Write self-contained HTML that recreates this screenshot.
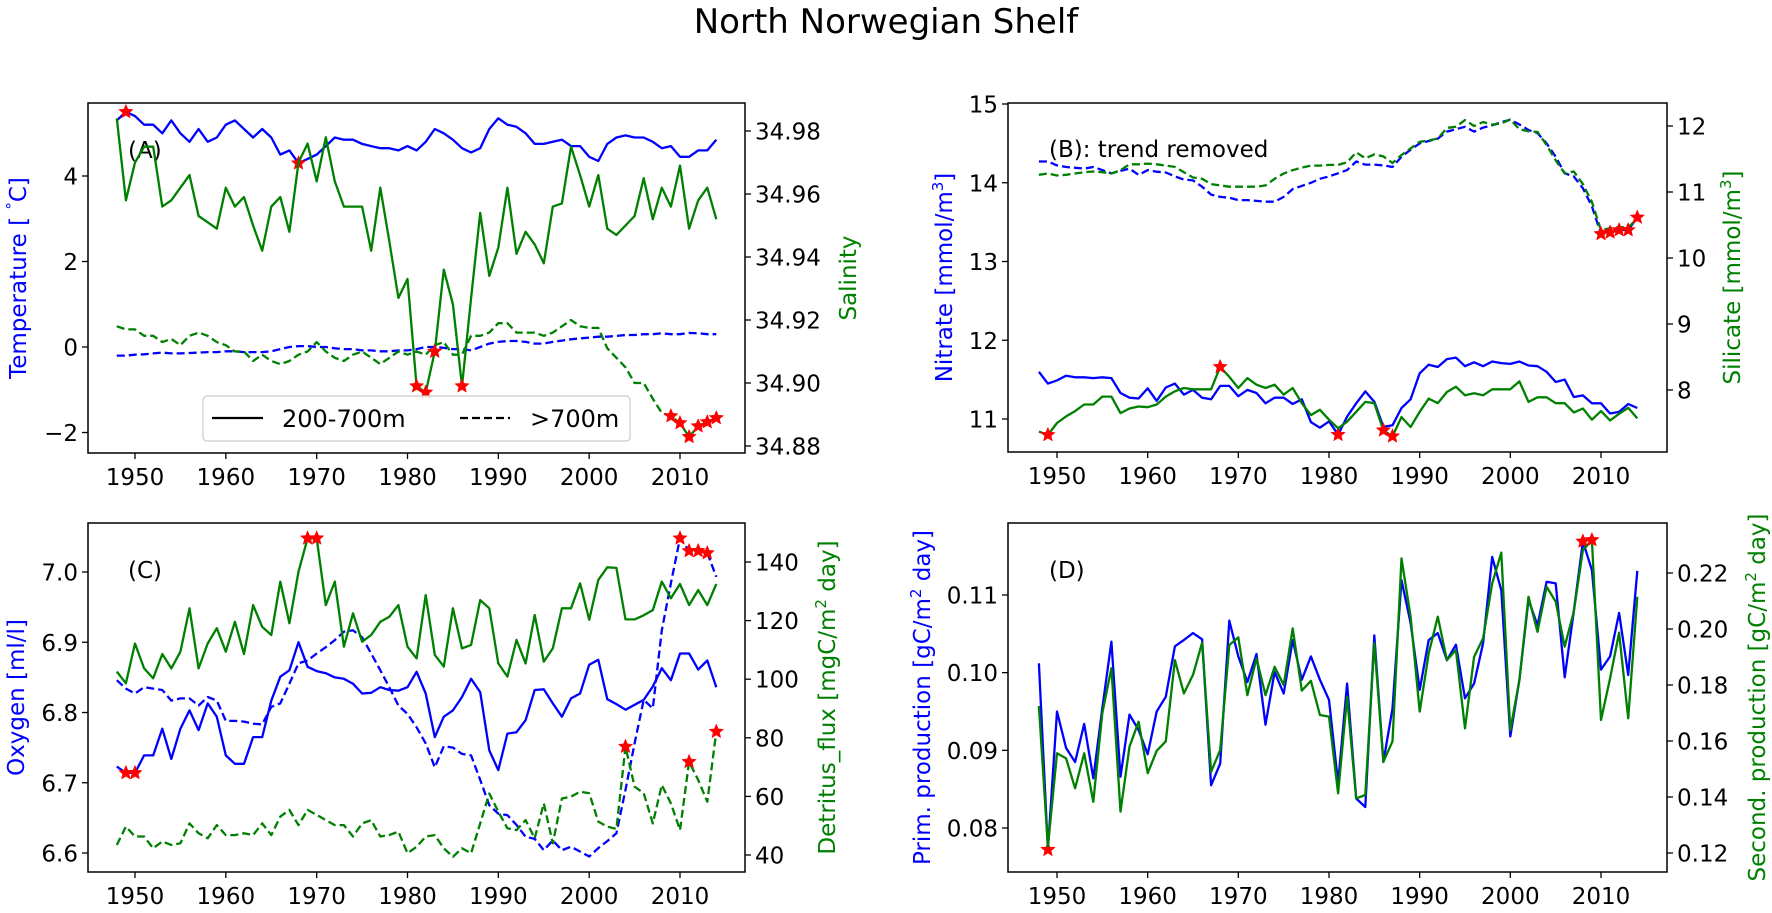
<!DOCTYPE html>
<html><head><meta charset="utf-8">
<style>
html,body{margin:0;padding:0;background:#fff;}
svg text{font-family:"DejaVu Sans","Liberation Sans",sans-serif;}
</style></head>
<body>
<svg id="fig" xmlns="http://www.w3.org/2000/svg" width="1772" height="908" viewBox="0 0 1772 908">
<rect width="1772" height="908" fill="#fff"/>
<text x="886" y="33" font-size="34" text-anchor="middle">North Norwegian Shelf</text>
</svg>
<script>
// ---- categories ----
const startYear = 1948;
const years = Array.from({length: 67}, (_, i) => startYear + i);
const xTicks = [1950, 1960, 1970, 1980, 1990, 2000, 2010];

// ---- Panel A ----
const tempSolid = [5.3,5.5,5.4,5.2,5.2,5.0,5.3,5.0,4.8,5.1, 4.8,4.9,5.2,5.3,5.1,4.9,5.1,4.9,4.5,4.6, 4.3,4.4,4.5,4.7,4.9,4.85,4.85,4.75,4.7,4.65, 4.65,4.6,4.7,4.6,4.8,5.1,5.0,4.85,4.65,4.55, 4.65,5.1,5.35,5.2,5.15,5.0,4.75,4.75,4.8,4.85, 4.7,4.7,4.45,4.35,4.75,4.9,4.95,4.9,4.9,4.8, 4.65,4.7,4.45,4.45,4.6,4.6,4.85];
const tempDeep = [-0.2,-0.2,-0.18,-0.17,-0.15,-0.13,-0.15,-0.15,-0.14,-0.13, -0.12,-0.12,-0.1,-0.1,-0.12,-0.12,-0.12,-0.1,-0.05,0.0, 0.02,0.02,0.0,0.0,-0.03,-0.05,-0.05,-0.08,-0.08,-0.1, -0.1,-0.08,-0.08,-0.05,0.0,0.0,-0.02,-0.05,-0.05,-0.08, 0.0,0.08,0.12,0.14,0.14,0.12,0.08,0.08,0.12,0.15, 0.18,0.2,0.22,0.24,0.24,0.26,0.28,0.28,0.3,0.3, 0.32,0.3,0.3,0.33,0.32,0.3,0.3];
const salSolid = [34.984,34.958,34.970,34.975,34.975,34.956,34.958,34.962,34.966,34.953, 34.951,34.949,34.962,34.956,34.959,34.950,34.942,34.956,34.959,34.948, 34.970,34.976,34.964,34.978,34.964,34.956,34.956,34.956,34.942,34.962, 34.945,34.927,34.933,34.899,34.897,34.910,34.936,34.925,34.899,34.927, 34.954,34.934,34.943,34.962,34.941,34.948,34.944,34.938,34.956,34.957, 34.975,34.966,34.956,34.966,34.949,34.947,34.950,34.953,34.965,34.952, 34.962,34.956,34.969,34.949,34.958,34.962,34.952];
const salDeep = [34.918,34.917,34.917,34.915,34.915,34.913,34.914,34.912,34.915,34.916, 34.915,34.913,34.912,34.910,34.910,34.907,34.909,34.907,34.906,34.907, 34.909,34.910,34.913,34.910,34.908,34.907,34.909,34.910,34.908,34.906, 34.908,34.910,34.909,34.910,34.909,34.912,34.913,34.909,34.909,34.915, 34.915,34.916,34.919,34.919,34.916,34.916,34.916,34.915,34.916,34.918, 34.920,34.918,34.9175,34.9175,34.911,34.908,34.905,34.900,34.900,34.895, 34.8905,34.8895,34.8873,34.8829,34.8863,34.8876,34.8889];
const tempTicks = [-2, 0, 2, 4];
const salTicks = [34.88, 34.90, 34.92, 34.94, 34.96, 34.98];
const starsTempSolid = [1949, 1968];
const starsSalSolid = [1981, 1982, 1983, 1986];
const starsSalDeep = [2009, 2010, 2011, 2012, 2013, 2014];

// ---- Panel B ----
const nitSolid = [11.60,11.45,11.49,11.55,11.53,11.53,11.52,11.53,11.52,11.33, 11.27,11.26,11.39,11.23,11.40,11.45,11.31,11.37,11.27,11.25, 11.42,11.42,11.29,11.37,11.33,11.20,11.27,11.27,11.19,11.25, 10.96,10.89,10.97,10.80,11.03,11.20,11.35,11.22,10.90,10.92, 11.14,11.25,11.58,11.69,11.66,11.76,11.78,11.67,11.72,11.67, 11.73,11.71,11.70,11.73,11.68,11.67,11.60,11.47,11.50,11.28, 11.30,11.20,11.20,11.07,11.09,11.19,11.14];
const nitDeep = [14.27,14.27,14.22,14.20,14.19,14.18,14.20,14.16,14.12,14.15, 14.18,14.10,14.16,14.14,14.13,14.08,14.04,14.03,13.95,13.85, 13.82,13.81,13.78,13.78,13.77,13.76,13.76,13.82,13.92,13.96, 14.00,14.05,14.08,14.12,14.16,14.27,14.23,14.23,14.22,14.20, 14.33,14.42,14.50,14.53,14.56,14.65,14.68,14.71,14.65,14.70, 14.73,14.77,14.80,14.74,14.67,14.63,14.50,14.33,14.12,14.08, 13.93,13.70,13.35,13.37,13.40,13.40,13.56];
const silSolid = [7.37,7.32,7.50,7.60,7.68,7.78,7.78,7.90,7.90,7.65, 7.72,7.75,7.74,7.78,7.90,7.98,8.03,8.01,8.01,8.01, 8.35,8.20,8.03,8.18,8.08,8.03,8.08,7.93,8.03,7.80, 7.62,7.70,7.55,7.42,7.52,7.67,7.82,7.80,7.39,7.30, 7.59,7.44,7.67,7.87,7.80,7.97,8.05,7.92,7.95,7.92, 8.01,8.01,8.01,8.13,7.82,7.89,7.89,7.80,7.80,7.66, 7.72,7.55,7.68,7.54,7.64,7.73,7.57];
const silDeep = [11.26,11.28,11.25,11.26,11.28,11.30,11.31,11.30,11.28,11.33, 11.42,11.42,11.43,11.42,11.40,11.38,11.30,11.22,11.20,11.12, 11.10,11.08,11.08,11.08,11.08,11.10,11.20,11.28,11.33,11.37, 11.40,11.40,11.41,11.41,11.45,11.60,11.51,11.57,11.54,11.44, 11.56,11.66,11.76,11.78,11.81,11.97,11.99,12.09,12.00,12.06, 12.02,12.04,12.10,11.95,11.92,11.91,11.71,11.48,11.28,11.31, 11.12,10.85,10.42,10.45,10.47,10.46,10.60];
const nitTicks = [11, 12, 13, 14, 15];
const silTicks = [8, 9, 10, 11, 12];
const starsNitSolid = [1981];
const starsNitDeep = [2010, 2011, 2012, 2013, 2014];
const starsSilSolid = [1949, 1968, 1986, 1987];

// ---- Panel C ----
const oxySolid = [6.723,6.714,6.714,6.739,6.739,6.777,6.734,6.777,6.803,6.775, 6.813,6.794,6.739,6.727,6.727,6.765,6.765,6.817,6.851,6.860, 6.900,6.865,6.859,6.856,6.850,6.848,6.841,6.827,6.828,6.836, 6.832,6.831,6.836,6.858,6.827,6.765,6.794,6.803,6.822,6.848, 6.829,6.746,6.718,6.770,6.772,6.789,6.832,6.833,6.813,6.794, 6.820,6.827,6.868,6.875,6.819,6.812,6.804,6.811,6.818,6.837, 6.863,6.846,6.884,6.884,6.861,6.874,6.836];
const oxyDeep = [6.846,6.834,6.827,6.836,6.834,6.832,6.817,6.820,6.820,6.810, 6.822,6.817,6.788,6.788,6.787,6.784,6.783,6.808,6.813,6.841, 6.870,6.874,6.884,6.893,6.903,6.915,6.917,6.907,6.884,6.860, 6.836,6.810,6.798,6.779,6.756,6.722,6.752,6.750,6.741,6.739, 6.704,6.668,6.656,6.654,6.640,6.623,6.620,6.604,6.618,6.604, 6.609,6.602,6.595,6.607,6.617,6.628,6.690,6.756,6.818,6.806, 6.917,6.984,7.048,7.030,7.030,7.027,6.993];
const detSolid = [102.6,98.6,112.2,103.7,100.3,108.6,103.7,109.4,124.2,103.7, 112.2,117.4,109.4,119.6,108.6,125.3,117.9,115.1,133.3,119.1, 136.7,148.1,148.1,125.3,133.3,111.1,122.5,112.8,115.1,119.6, 121.3,125.3,111.1,107.1,128.7,108.3,104.3,124.2,110.5,111.7, 127.0,124.2,105.4,100.9,113.4,105.4,121.9,106.0,110.5,124.2, 124.2,132.7,120.3,133.9,138.2,138.0,120.4,120.4,121.8,123.6, 133.3,127.6,132.5,125.3,130.4,125.3,132.5];
const detDeep = [43.4,49.7,46.3,46.3,42.3,44.6,43.4,44.0,50.8,47.4, 45.7,50.2,46.8,46.8,47.4,46.8,50.8,46.8,53.1,55.4, 50.2,55.4,53.7,51.9,50.2,50.2,46.3,50.8,51.9,46.3, 46.8,48.0,40.6,42.8,46.3,46.8,42.3,39.4,42.3,40.6, 50.8,61.0,54.8,49.1,48.5,51.9,45.7,57.6,44.0,59.3, 59.9,61.6,61.1,51.4,49.7,48.9,77.0,63.3,61.1,50.8, 63.9,57.6,48.5,71.8,65.6,58.2,82.1];
const oxyTicks = [6.6, 6.7, 6.8, 6.9, 7.0];
const detTicks = [40, 60, 80, 100, 120, 140];
const starsOxySolid = [1949, 1950];
const starsOxyDeep = [2010, 2011, 2012, 2013];
const starsDetSolid = [1969, 1970];
const starsDetDeep = [2004, 2011, 2014];

// ---- Panel D ----
const primProd = [0.1012,0.0772,0.0950,0.0903,0.0885,0.0934,0.0864,0.0954,0.1040,0.0866, 0.0946,0.0926,0.0895,0.0950,0.0969,0.1034,0.1042,0.1051,0.1043,0.0855, 0.0883,0.1067,0.1021,0.0988,0.1024,0.0933,0.1001,0.0973,0.1042,0.0991, 0.1021,0.0991,0.0965,0.0858,0.0986,0.0838,0.0827,0.1048,0.0885,0.0954, 0.1119,0.1064,0.0978,0.1042,0.1051,0.1016,0.1036,0.0967,0.0986,0.1038, 0.1149,0.1106,0.0918,0.0991,0.1094,0.1061,0.1117,0.1115,0.0994,0.1079, 0.1169,0.1132,0.1004,0.1021,0.1077,0.0997,0.1131];
const secProd = [0.1725,0.1223,0.1556,0.1538,0.1431,0.1556,0.1383,0.1699,0.1860,0.1348, 0.1580,0.1669,0.1485,0.1565,0.1599,0.1889,0.1770,0.1836,0.1951,0.1490, 0.1568,0.1943,0.1970,0.1764,0.1895,0.1764,0.1865,0.1800,0.2002,0.1780, 0.1815,0.1693,0.1687,0.1413,0.1758,0.1395,0.1407,0.1949,0.1526,0.1599, 0.2252,0.2044,0.1705,0.1913,0.2044,0.1889,0.1925,0.1645,0.1901,0.1967, 0.2163,0.2273,0.1639,0.1818,0.2115,0.1990,0.2151,0.2098,0.1937,0.2062, 0.2282,0.2318,0.1675,0.1824,0.1987,0.1681,0.2115];
const primTicks = [0.08, 0.09, 0.10, 0.11];
const secTicks = [0.12, 0.14, 0.16, 0.18, 0.20, 0.22];
const starsPrim = [1949, 2008];
const starsSec = [2009];

// ---- drawing ----
const NS = 'http://www.w3.org/2000/svg';
const svg = document.getElementById('fig');
const BLUE = '#0000ff', GREEN = '#008000';
const TF = 23;
function mk(tag, attrs, parent) {
  const e = document.createElementNS(NS, tag);
  for (const k in attrs) e.setAttribute(k, attrs[k]);
  (parent || svg).appendChild(e);
  return e;
}
function lin(v0, p0, v1, p1) { return v => p0 + (v - v0) * (p1 - p0) / (v1 - v0); }

function starPath(cx, cy, r) {
  let d = '';
  for (let i = 0; i < 10; i++) {
    const rr = i % 2 ? r * 0.45 : r;
    const a = -Math.PI / 2 + i * Math.PI / 5;
    d += (i ? 'L' : 'M') + (cx + rr * Math.cos(a)).toFixed(1) + ',' + (cy + rr * Math.sin(a)).toFixed(1);
  }
  return d + 'Z';
}

function drawSeries(g, xs, ys, vals, color, dashed, name) {
  const pts = vals.map((v, i) => xs(years[i]).toFixed(1) + ',' + ys(v).toFixed(1)).join(' ');
  const pl = mk('polyline', {points: pts, fill: 'none', stroke: color, 'stroke-width': 2.3,
    'stroke-linejoin': 'round'}, g);
  if (dashed) pl.setAttribute('stroke-dasharray', '8,4');
  
  
}
function drawStars(g, xs, ys, vals, starYears, name) {
  starYears.forEach(yr => {
    const i = years.indexOf(yr);
    const s = mk('path', {d: starPath(xs(yr), ys(vals[i]), 7.5), fill: '#ff0000', stroke: '#ff0000', 'stroke-width': 0.5}, g);
    
    
  });
}

function axes(p) {
  const g = mk('g', {});
  
  
  p.g = g;
  xTicks.forEach(t => {
    const x = p.xs(t);
    mk('line', {x1: x, y1: p.bottom, x2: x, y2: p.bottom + 6, stroke: '#000', 'stroke-width': 1.3}, g);
    const tx = mk('text', {x: x, y: p.bottom + 32, 'font-size': TF, 'text-anchor': 'middle'}, g);
    tx.textContent = t;
    
    
  });
  p.lTicks.forEach(t => {
    const y = p.ly(t);
    mk('line', {x1: p.left - 6, y1: y, x2: p.left, y2: y, stroke: '#000', 'stroke-width': 1.3}, g);
    const tx = mk('text', {x: p.left - 10, y: y + 8.5, 'font-size': TF, 'text-anchor': 'end'}, g);
    tx.textContent = p.lFmt(t);
    
    
  });
  p.rTicks.forEach(t => {
    const y = p.ry(t);
    mk('line', {x1: p.right, y1: y, x2: p.right + 6, y2: y, stroke: '#000', 'stroke-width': 1.3}, g);
    const tx = mk('text', {x: p.right + 10, y: y + 8.5, 'font-size': TF, 'text-anchor': 'start'}, g);
    tx.textContent = p.rFmt(t);
    
    
  });
  const cy = (p.top + p.bottom) / 2;
  const ll = mk('text', {x: 0, y: 0, 'font-size': TF, fill: BLUE, 'text-anchor': 'middle',
    transform: `translate(${p.lLabX},${cy}) rotate(-90)`}, g);
  ll.innerHTML = p.lLab;
  
  
  const rl = mk('text', {x: 0, y: 0, 'font-size': TF, fill: GREEN, 'text-anchor': 'middle',
    transform: `translate(${p.rLabX},${cy}) rotate(-90)`}, g);
  rl.innerHTML = p.rLab;
  
  
  const pt = mk('text', {x: p.tagX, y: p.tagY, 'font-size': TF}, g);
  pt.textContent = p.tag;
  
  
  return g;
}
function frame(p) {
  const r = mk('rect', {x: p.left, y: p.top, width: p.right - p.left, height: p.bottom - p.top,
    fill: 'none', stroke: '#000', 'stroke-width': 1.5}, p.g);
  
  
}

const sup = (s) => `<tspan baseline-shift="super" font-size="15">${s}</tspan>`;
const xA = lin(1950, 135, 2010, 680);
const xB = lin(1950, 1057, 2010, 1601);

const A = {name: 'panel-a', left: 88, right: 745, top: 103, bottom: 453, xs: xA,
  ly: lin(0, 347, 4, 176), ry: lin(34.98, 131, 34.88, 446), lTicks: tempTicks, rTicks: salTicks,
  lFmt: t => t < 0 ? '\u2212' + Math.abs(t) : String(t), rFmt: t => t.toFixed(2),
  lLab: 'Temperature [ ' + sup('\u00b0') + 'C]', rLab: 'Salinity', lLabX: 26, rLabX: 856,
  tag: '(A)', tagX: 128, tagY: 158};
const B = {name: 'panel-b', left: 1008, right: 1667, top: 103, bottom: 452, xs: xB,
  ly: lin(15, 104, 11, 419), ry: lin(12, 126, 8, 390), lTicks: nitTicks, rTicks: silTicks,
  lFmt: t => String(t), rFmt: t => String(t),
  lLab: 'Nitrate [mmol/m' + sup('3') + ']', rLab: 'Silicate [mmol/m' + sup('3') + ']', lLabX: 952, rLabX: 1740,
  tag: '(B): trend removed', tagX: 1049, tagY: 157};
const C = {name: 'panel-c', left: 88, right: 745, top: 523, bottom: 872, xs: xA,
  ly: lin(7.0, 572, 6.6, 853), ry: lin(140, 562, 40, 855), lTicks: oxyTicks, rTicks: detTicks,
  lFmt: t => t.toFixed(1), rFmt: t => String(t),
  lLab: 'Oxygen [ml/l]', rLab: 'Detritus_flux [mgC/m' + sup('2') + ' day]', lLabX: 24, rLabX: 835,
  tag: '(C)', tagX: 128, tagY: 578};
const D = {name: 'panel-d', left: 1008, right: 1667, top: 523, bottom: 872, xs: xB,
  ly: lin(0.11, 595, 0.08, 828), ry: lin(0.22, 573, 0.12, 853), lTicks: primTicks, rTicks: secTicks,
  lFmt: t => t.toFixed(2), rFmt: t => t.toFixed(2),
  lLab: 'Prim. production [gC/m' + sup('2') + ' day]', rLab: 'Second. production [gC/m' + sup('2') + ' day]',
  lLabX: 930, rLabX: 1765, tag: '(D)', tagX: 1049, tagY: 578};

// Panel A
axes(A);
drawSeries(A.g, A.xs, A.ly, tempSolid, BLUE, false, 'temperature-200-700m-line');
drawSeries(A.g, A.xs, A.ly, tempDeep, BLUE, true, 'temperature-below-700m-line');
drawStars(A.g, A.xs, A.ly, tempSolid, starsTempSolid, 'temperature-extreme-marker');
drawSeries(A.g, A.xs, A.ry, salSolid, GREEN, false, 'salinity-200-700m-line');
drawSeries(A.g, A.xs, A.ry, salDeep, GREEN, true, 'salinity-below-700m-line');
drawStars(A.g, A.xs, A.ry, salSolid, starsSalSolid, 'salinity-extreme-marker');
drawStars(A.g, A.xs, A.ry, salDeep, starsSalDeep, 'salinity-extreme-marker');
frame(A);
const lg = mk('g', {}, A.g);


mk('rect', {x: 203, y: 396, width: 427, height: 45, rx: 4, fill: '#fff', 'fill-opacity': 0.85, stroke: '#ccc', 'stroke-width': 1.2}, lg);
mk('line', {x1: 212, y1: 418, x2: 263, y2: 418, stroke: '#000', 'stroke-width': 2.3}, lg);
const l1 = mk('text', {x: 282, y: 427, 'font-size': 24}, lg); l1.textContent = '200-700m';


mk('line', {x1: 460, y1: 418, x2: 510, y2: 418, stroke: '#000', 'stroke-width': 2.3, 'stroke-dasharray': '8,4'}, lg);
const l2 = mk('text', {x: 530, y: 427, 'font-size': 24}, lg); l2.textContent = '>700m';



// Panel B
axes(B);
drawSeries(B.g, B.xs, B.ly, nitSolid, BLUE, false, 'nitrate-200-700m-line');
drawSeries(B.g, B.xs, B.ly, nitDeep, BLUE, true, 'nitrate-below-700m-line');
drawStars(B.g, B.xs, B.ly, nitSolid, starsNitSolid, 'nitrate-extreme-marker');
drawSeries(B.g, B.xs, B.ry, silSolid, GREEN, false, 'silicate-200-700m-line');
drawSeries(B.g, B.xs, B.ry, silDeep, GREEN, true, 'silicate-below-700m-line');
drawStars(B.g, B.xs, B.ly, nitDeep, starsNitDeep, 'nitrate-extreme-marker');
drawStars(B.g, B.xs, B.ry, silSolid, starsSilSolid, 'silicate-extreme-marker');
frame(B);

// Panel C
axes(C);
drawSeries(C.g, C.xs, C.ly, oxySolid, BLUE, false, 'oxygen-200-700m-line');
drawSeries(C.g, C.xs, C.ly, oxyDeep, BLUE, true, 'oxygen-below-700m-line');
drawStars(C.g, C.xs, C.ly, oxySolid, starsOxySolid, 'oxygen-extreme-marker');
drawStars(C.g, C.xs, C.ly, oxyDeep, starsOxyDeep, 'oxygen-extreme-marker');
drawSeries(C.g, C.xs, C.ry, detSolid, GREEN, false, 'detritus-200-700m-line');
drawSeries(C.g, C.xs, C.ry, detDeep, GREEN, true, 'detritus-below-700m-line');
drawStars(C.g, C.xs, C.ry, detSolid, starsDetSolid, 'detritus-extreme-marker');
drawStars(C.g, C.xs, C.ry, detDeep, starsDetDeep, 'detritus-extreme-marker');
frame(C);

// Panel D
axes(D);
drawSeries(D.g, D.xs, D.ly, primProd, BLUE, false, 'primary-production-line');
drawStars(D.g, D.xs, D.ly, primProd, starsPrim, 'primary-production-extreme-marker');
drawSeries(D.g, D.xs, D.ry, secProd, GREEN, false, 'secondary-production-line');
drawStars(D.g, D.xs, D.ry, secProd, starsSec, 'secondary-production-extreme-marker');
frame(D);
</script>
</body></html>
